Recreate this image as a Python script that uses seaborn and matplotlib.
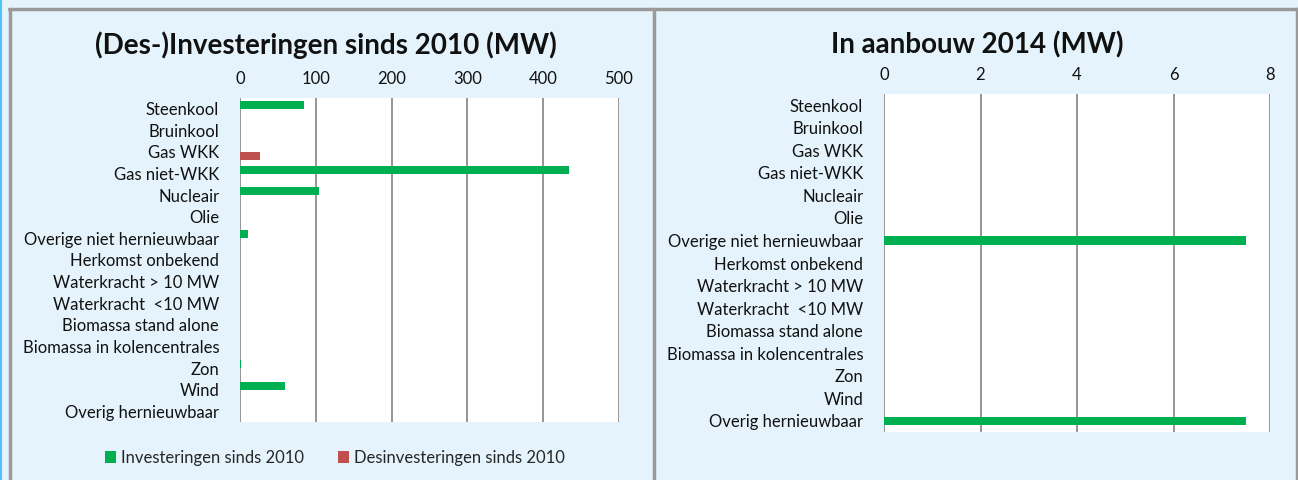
import matplotlib
matplotlib.use("Agg")
import matplotlib.pyplot as plt
from matplotlib.lines import Line2D
import pandas as pd
import seaborn as sns

categories = ["Steenkool", "Bruinkool", "Gas WKK", "Gas niet-WKK", "Nucleair", "Olie",
              "Overige niet hernieuwbaar", "Herkomst onbekend", "Waterkracht > 10 MW",
              "Waterkracht  <10 MW", "Biomassa stand alone", "Biomassa in kolencentrales",
              "Zon", "Wind", "Overig hernieuwbaar"]
investeringen = [85, 0, 0, 434, 104, 0, 11, 0, 0, 0, 0, 0, 1, 59, 0]
desinvesteringen = [0, 0, 26, 0, 0, 0, 0, 0, 0, 0, 0, 0, 0, 0, 0]
aanbouw = [0, 0, 0, 0, 0, 0, 7.5, 0, 0, 0, 0, 0, 0, 0, 7.5]

series_names = ["Investeringen sinds 2010", "Desinvesteringen sinds 2010"]
titles = ["(Des-)Investeringen sinds 2010 (MW)", "In aanbouw 2014 (MW)"]

bg = "#E5F4FC"
green = "#00B050"
red = "#C0504D"
grid = "#8E8E8E"

sns.set_style("white")
plt.rcParams["font.family"] = ["Lato", "DejaVu Sans"]

df_inv = pd.DataFrame({
    "cat": categories * 2,
    "val": investeringen + desinvesteringen,
    "serie": [series_names[0]] * len(categories) + [series_names[1]] * len(categories),
})
df_bouw = pd.DataFrame({"cat": categories, "val": aanbouw})

fig = plt.figure(figsize=(12.98, 4.8), dpi=100, facecolor=bg)

ax1 = fig.add_axes([240 / 1298, 1 - 422 / 480, 379 / 1298, 324 / 480])
ax2 = fig.add_axes([884 / 1298, 1 - 432 / 480, 386 / 1298, 338 / 480])

sns.barplot(data=df_inv, y="cat", x="val", hue="serie", order=categories,
            hue_order=series_names, palette=[green, red], width=0.75,
            saturation=1, orient="h", ax=ax1, legend=True, linewidth=0)
sns.barplot(data=df_bouw, y="cat", x="val", order=categories, color=green,
            width=0.36, saturation=1, orient="h", ax=ax2, linewidth=0)

for ax, xmax, step in [(ax1, 500, 100), (ax2, 8, 2)]:
    ax.set_facecolor("white")
    ax.set_xlim(0, xmax)
    ax.set_xticks(range(0, xmax + 1, step))
    ax.xaxis.tick_top()
    ax.set_xlabel("")
    ax.set_ylabel("")
    ax.tick_params(axis="both", length=0, labelsize=12, pad=8, colors="#111111")
    ax.tick_params(axis="y", pad=15)
    ax.grid(axis="x", color=grid, linewidth=1.3)
    ax.set_axisbelow(True)
    for s in ax.spines.values():
        s.set_visible(False)
    ax.set_ylim(len(categories) - 0.5, -0.5)

fig.text(326 / 1298, 1 - 45 / 480, titles[0], ha="center", va="center",
         fontsize=20, fontweight="bold", color="#111111")
fig.text(977 / 1298, 1 - 45 / 480, titles[1], ha="center", va="center",
         fontsize=20, fontweight="bold", color="#111111")

handles, labels = ax1.get_legend_handles_labels()
ax1.legend_.remove()
fig.legend(handles, labels, loc="center", bbox_to_anchor=(335 / 1298, 1 - 458 / 480),
           ncol=2, frameon=False, fontsize=12, handlelength=0.7, handleheight=0.7,
           handletextpad=0.3, columnspacing=2.0)

# panel borders
border = "#9A9A9A"
fig.add_artist(Line2D([9 / 1298, 1], [1 - 9 / 480, 1 - 9 / 480], color=border, lw=2.5))
fig.add_artist(Line2D([9.5 / 1298, 9.5 / 1298], [0, 1 - 9 / 480], color=border, lw=2.5))
fig.add_artist(Line2D([654 / 1298, 654 / 1298], [0, 1 - 9 / 480], color=border, lw=2.5))
fig.add_artist(Line2D([1296.5 / 1298, 1296.5 / 1298], [0, 1 - 9 / 480], color=border, lw=2.5))
fig.add_artist(Line2D([0.5 / 1298, 0.5 / 1298], [0, 1], color="#4FC3F7", lw=1.5))

fig.savefig("out.png", dpi=100, facecolor=bg)
